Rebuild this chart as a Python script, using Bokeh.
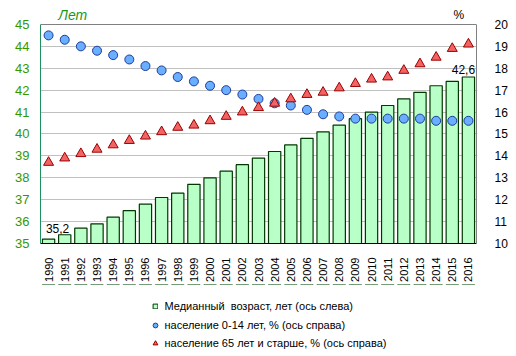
import math
from bokeh.plotting import figure
from bokeh.layouts import column
from bokeh.models import (FactorRange, Range1d, LinearAxis, Legend, LegendItem, Label, Grid,
                          ColumnDataSource, FixedTicker, LabelSet)
from bokeh.embed import file_html
from bokeh.resources import INLINE
from bokeh.core.properties import value

years = ["1990", "1991", "1992", "1993", "1994", "1995", "1996", "1997", "1998", "1999",
         "2000", "2001", "2002", "2003", "2004", "2005", "2006", "2007", "2008", "2009",
         "2010", "2011", "2012", "2013", "2014", "2015", "2016"]
median_age = [35.2, 35.4, 35.7, 35.9, 36.2, 36.5, 36.8, 37.1, 37.3, 37.7,
              38.0, 38.3, 38.6, 38.9, 39.2, 39.5, 39.8, 40.1, 40.4, 40.7,
              41.0, 41.3, 41.6, 41.9, 42.2, 42.4, 42.6]
pop_0_14 = [19.5, 19.3, 19.0, 18.8, 18.6, 18.4, 18.1, 17.9, 17.6, 17.4,
            17.2, 17.0, 16.8, 16.6, 16.4, 16.3, 16.1, 15.9, 15.8, 15.7,
            15.7, 15.7, 15.7, 15.7, 15.6, 15.6, 15.6]
pop_65 = [13.7, 13.9, 14.1, 14.3, 14.5, 14.7, 14.9, 15.1, 15.3, 15.4,
          15.6, 15.8, 16.0, 16.2, 16.4, 16.6, 16.8, 16.9, 17.1, 17.3,
          17.5, 17.6, 17.9, 18.2, 18.5, 18.9, 19.1]
left_ticks = [35, 36, 37, 38, 39, 40, 41, 42, 43, 44, 45]
right_ticks = [10, 11, 12, 13, 14, 15, 16, 17, 18, 19, 20]
series_names = ["Медианный  возраст, лет (ось слева)",
                "население 0-14 лет, % (ось справа)",
                "население 65 лет и старше, % (ось справа)"]
left_unit = "Лет"
right_unit = "%"

FONT = "Liberation Sans"
GREEN_TXT = "#339900"
BAR_FILL, BAR_LINE = "#B8FFC8", "#003800"
CIR_FILL, CIR_LINE = "#6AAEFF", "#1F3C9A"
TRI_FILL, TRI_LINE = "#F26464", "#9A0000"
W = 516
PX_PER_UNIT = 22.0          # plot area 220 px tall for 10 units
HEADROOM = 16 / PX_PER_UNIT  # space above the plot area for the unit captions

src = ColumnDataSource(dict(year=years, age=median_age, young=pop_0_14, old=pop_65))

# ---------- main chart ----------
p = figure(width=W, height=284,
           x_range=FactorRange(factors=years, range_padding=0),
           y_range=Range1d(left_ticks[0], left_ticks[-1] + HEADROOM),
           output_backend="svg", toolbar_location=None,
           min_border_left=40, min_border_right=40, min_border_top=8, min_border_bottom=40)
p.extra_y_ranges = {"right": Range1d(right_ticks[0], right_ticks[-1] + HEADROOM)}
p.outline_line_color = None
p.background_fill_color = "white"
p.border_fill_color = "white"

p.xgrid.visible = False
p.ygrid.ticker = FixedTicker(ticks=left_ticks[1:-1])
p.ygrid.grid_line_color = "#C0C0C0"
# top edge of the plot area
p.add_layout(Grid(dimension=1, ticker=FixedTicker(ticks=[left_ticks[-1]]),
                  grid_line_color="#808080"))

ya = p.yaxis[0]
ya.ticker = FixedTicker(ticks=left_ticks)
ya.bounds = (left_ticks[0], left_ticks[-1])
ya.axis_line_color = "#1E9060"
ya.major_tick_line_color = None
ya.minor_tick_line_color = None
ya.major_label_standoff = 5
ya.major_label_text_font = FONT
ya.major_label_text_font_size = "13px"
ya.major_label_text_color = GREEN_TXT

ra = LinearAxis(y_range_name="right", ticker=FixedTicker(ticks=right_ticks))
ra.bounds = (right_ticks[0], right_ticks[-1])
ra.axis_line_color = "#808080"
ra.major_tick_line_color = None
ra.minor_tick_line_color = None
ra.major_label_standoff = 12
ra.major_label_text_font = FONT
ra.major_label_text_font_size = "12px"
ra.major_label_text_color = "black"
p.add_layout(ra, "right")

xa = p.xaxis[0]
xa.axis_line_color = "black"
xa.major_tick_line_color = None
xa.minor_tick_line_color = None
xa.major_label_orientation = math.pi / 2
xa.major_label_standoff = 8
xa.major_label_text_font = FONT
xa.major_label_text_font_size = "11px"
xa.major_label_text_color = "black"

p.vbar(x="year", top="age", bottom=left_ticks[0], width=0.76, source=src,
       fill_color=BAR_FILL, line_color=BAR_LINE, line_width=1.2)
p.scatter(x="year", y="young", source=src, y_range_name="right", marker="circle",
          size=9, fill_color=CIR_FILL, line_color=CIR_LINE, line_width=1)
p.scatter(x="year", y="old", source=src, y_range_name="right", marker="triangle",
          size=10, fill_color=TRI_FILL, line_color=TRI_LINE, line_width=1)

lab_src = ColumnDataSource(dict(
    year=[years[0], years[-1]],
    age=[median_age[0], median_age[-1]],
    txt=[f"{median_age[0]:.1f}".replace(".", ","), f"{median_age[-1]:.1f}".replace(".", ",")],
    dx=[9, -5], dy=[6, 3]))
p.add_layout(LabelSet(x="year", y="age", text="txt", source=lab_src, x_offset="dx", y_offset="dy",
                      text_align="center", text_baseline="bottom",
                      text_font=value(FONT), text_font_size="12px", text_color="black"))

# unit captions above the plot area (x in category units, y in left-axis units)
cap_y = left_ticks[-1] + 9.5 / PX_PER_UNIT
p.add_layout(Label(x=2.0, y=cap_y, text=left_unit, text_align="center", text_baseline="middle",
                   text_font=FONT, text_font_size="14px", text_font_style="italic",
                   text_color="#1C961C"))
p.add_layout(Label(x=25.9, y=cap_y, text=right_unit, text_align="center", text_baseline="middle",
                   text_font=FONT, text_font_size="12px", text_color="black"))

# ---------- legend strip ----------
leg = figure(width=W, height=72, x_range=FactorRange(factors=years), y_range=Range1d(0, 1),
             output_backend="svg", toolbar_location=None, min_border=0,
             x_axis_location=None, y_axis_location=None)
leg.outline_line_color = None
leg.grid.visible = False
# same series drawn outside this strip's visible range; only their legend glyphs show
r_bar = leg.vbar(x="year", top="age", bottom=left_ticks[0], width=0.76, source=src,
                 fill_color=BAR_FILL, line_color=BAR_LINE, line_width=1)
r_cir = leg.scatter(x="year", y="young", source=src, marker="circle",
                    fill_color=CIR_FILL, line_color=CIR_LINE, line_width=1)
r_tri = leg.scatter(x="year", y="old", source=src, marker="triangle",
                    fill_color=TRI_FILL, line_color=TRI_LINE, line_width=1)

common = dict(orientation="vertical", label_height=14, spacing=4, padding=0,
              background_fill_alpha=0, border_line_color=None,
              label_text_font=FONT, label_text_font_size="11px", label_text_color="black")
leg1 = Legend(items=[LegendItem(label=series_names[0], renderers=[r_bar])],
              location=(111.5, 43.3), glyph_width=6, glyph_height=6, label_standoff=7, **common)
leg2 = Legend(items=[LegendItem(label=series_names[1], renderers=[r_cir]),
                     LegendItem(label=series_names[2], renderers=[r_tri])],
              location=(108.5, 6.3), glyph_width=12, glyph_height=12, label_standoff=4, **common)
leg.add_layout(leg1)
leg.add_layout(leg2)

layout = column(p, leg, spacing=0)
open("out.html", "w").write(file_html(layout, INLINE))
